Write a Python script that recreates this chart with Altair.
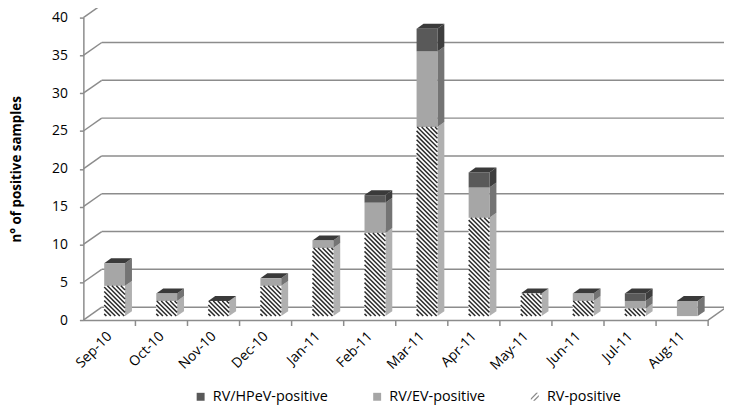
import json
import numpy as np
import pandas as pd
import altair as alt

# ---------------- data ----------------
months = ["Sep-10", "Oct-10", "Nov-10", "Dec-10", "Jan-11", "Feb-11",
          "Mar-11", "Apr-11", "May-11", "Jun-11", "Jul-11", "Aug-11"]
rv_positive = [4, 2, 2, 4, 9, 11, 25, 13, 3, 2, 1, 0]
rv_ev_positive = [3, 1, 0, 1, 1, 4, 10, 4, 0, 1, 1, 2]
rv_hpev_positive = [0, 0, 0, 0, 0, 1, 3, 2, 0, 0, 1, 0]
y_ticks = [0, 5, 10, 15, 20, 25, 30, 35, 40]
legend_order = ["RV/HPeV-positive", "RV/EV-positive", "RV-positive"]

# ---------------- styling ----------------
W, H = 630, 305
XMAX, YMAX = len(months), 40
PX, PY = W / XMAX, H / YMAX
FONT = "Open Sans"
GRID = "#8c8c8c"
WALL_X, WALL_Y = 18.5, 13      # depth of the back wall (px)
DEPTH_X, DEPTH_Y = 7, 5        # depth of a bar (px)
LIFT = 4                       # bars stand a little behind the front edge (px)
BAR_L, BAR_R = 0.4, 0.8        # bar position inside its category band
HATCH_STEP = 4.5

front_col = {"RV-positive": "#ffffff", "RV/EV-positive": "#a6a6a6", "RV/HPeV-positive": "#595959"}
side_col = {"RV-positive": "#b0b0b0", "RV/EV-positive": "#747474", "RV/HPeV-positive": "#3e3e3e"}
TOP_COL = "#3a3a3a"


def dxp(p):
    return p / PX


def dyp(p):
    return p / PY


series = [("RV-positive", rv_positive), ("RV/EV-positive", rv_ev_positive),
          ("RV/HPeV-positive", rv_hpev_positive)]

front, side, top, hatch = [], [], [], []
for i, m in enumerate(months):
    x0, x1 = i + BAR_L, i + BAR_R
    base = dyp(LIFT)
    cum = 0
    for name, vals in series:
        v = vals[i]
        if v > 0:
            y0, y1 = cum + base, cum + v + base
            fid = f"{i}-{name}"
            front.append(dict(x0=x0, x1=x1, y0=y0, y1=y1, col=front_col[name]))
            side.append(dict(fid=fid, x=x1, lo=y0, hi=y1, col=side_col[name]))
            side.append(dict(fid=fid, x=x1 + dxp(DEPTH_X), lo=y0 + dyp(DEPTH_Y),
                             hi=y1 + dyp(DEPTH_Y), col=side_col[name]))
            if name == "RV-positive":
                bw = (BAR_R - BAR_L) * PX
                hp = v * PY
                for c in np.arange(HATCH_STEP / 2, hp + bw, HATCH_STEP):
                    pa, pb = max(0.0, c - hp), min(bw, c)
                    if pb - pa < 0.4:
                        continue
                    hatch.append(dict(xa=x0 + dxp(pa), ya=y0 + dyp(c - pa),
                                      xb=x0 + dxp(pb), yb=y0 + dyp(c - pb)))
        cum += v
    t = cum + base
    top.append(dict(fid=i, y=t, xa=x0, xb=x1))
    top.append(dict(fid=i, y=t + dyp(DEPTH_Y), xa=x0 + dxp(DEPTH_X), xb=x1 + dxp(DEPTH_X)))

front_df = pd.DataFrame(front)
side_df = pd.DataFrame(side)
top_df = pd.DataFrame(top)
hatch_df = pd.DataFrame(hatch)
grid_df = pd.DataFrame({"v": y_ticks})
bound_df = pd.DataFrame({"b": list(range(1, XMAX + 1))})
legend_df = pd.DataFrame({"s": legend_order, "px": [0] * 3, "py": [0] * 3})

XS = alt.Scale(domain=[0, XMAX], nice=False, zero=False)
YS = alt.Scale(domain=[0, YMAX], nice=False, zero=False)

label_expr = json.dumps(months) + "[floor(datum.value)]"

XAX = alt.Axis(
    orient="bottom", values=[i + 0.5 for i in range(XMAX)], labelExpr=label_expr,
    ticks=False, grid=False, domainColor=GRID, domainWidth=1.5,
    labelAngle=315, labelAlign="right", labelBaseline="middle",
    labelPadding=14, labelOverlap=False, labelFlush=False, labelBound=False,
    labelFontSize=14, title=None)
YAX = alt.Axis(
    orient="left", values=y_ticks, grid=False, domainColor=GRID, domainWidth=1.5,
    tickColor=GRID, tickWidth=1.5, tickSize=4, labelPadding=12, labelFontSize=14,
    title="n° of positive samples", titleFont=FONT, titleFontSize=13.5,
    titleFontWeight="bold", titleX=-67, titleY=H / 2, titleAngle=270,
    titleAlign="center", titleBaseline="middle")

# back wall gridlines
grid = alt.Chart(grid_df).mark_rule(
    color=GRID, strokeWidth=1.5, xOffset=WALL_X, x2Offset=WALL_X,
    yOffset=-WALL_Y, y2Offset=-WALL_Y
).encode(
    x=alt.X(datum=0, scale=XS, axis=XAX),
    x2=alt.datum(XMAX),
    y=alt.Y("v:Q", scale=YS, axis=YAX),
)

# diagonal links from the front axis to the back wall
diag = alt.Chart(grid_df).mark_rule(
    color=GRID, strokeWidth=1.5, x2Offset=WALL_X, y2Offset=-WALL_Y
).encode(
    x=alt.X(datum=0, scale=XS, axis=XAX),
    x2=alt.datum(0),
    y=alt.Y("v:Q", scale=YS, axis=YAX),
    y2=alt.Y2("v:Q"),
)

floor_edge = alt.Chart(bound_df.tail(1)).mark_rule(
    color=GRID, strokeWidth=1.5, x2Offset=WALL_X, y2Offset=-WALL_Y
).encode(
    x=alt.X("b:Q", scale=XS, axis=XAX),
    x2=alt.X2("b:Q"),
    y=alt.Y(datum=0, scale=YS, axis=YAX),
    y2=alt.datum(0),
)

# category boundary ticks under the floor edge
ticks = alt.Chart(bound_df).mark_rule(color=GRID, strokeWidth=1.5).encode(
    x=alt.X("b:Q", scale=XS, axis=XAX),
    y=alt.value(H),
    y2=alt.value(H + 6),
)

sides = alt.Chart(side_df).mark_area(orient="vertical").encode(
    x=alt.X("x:Q", scale=XS, axis=XAX),
    y=alt.Y("lo:Q", scale=YS, axis=YAX, stack=None),
    y2=alt.Y2("hi:Q"),
    detail="fid:N",
    color=alt.Color("col:N", scale=None),
)

tops = alt.Chart(top_df).mark_area(orient="horizontal", color=TOP_COL).encode(
    y=alt.Y("y:Q", scale=YS, axis=YAX),
    x=alt.X("xa:Q", scale=XS, axis=XAX, stack=None),
    x2=alt.X2("xb:Q"),
    detail="fid:N",
)

fronts = alt.Chart(front_df).mark_rect().encode(
    x=alt.X("x0:Q", scale=XS, axis=XAX),
    x2=alt.X2("x1:Q"),
    y=alt.Y("y0:Q", scale=YS, axis=YAX),
    y2=alt.Y2("y1:Q"),
    color=alt.Color("col:N", scale=None),
)

hatches = alt.Chart(hatch_df).mark_rule(color="#2a2a2a", strokeWidth=1.5).encode(
    x=alt.X("xa:Q", scale=XS, axis=XAX),
    x2=alt.X2("xb:Q"),
    y=alt.Y("ya:Q", scale=YS, axis=YAX),
    y2=alt.Y2("yb:Q"),
)

hatch_symbol = ("M-1,0.35L0.35,-1L0.8,-1L-1,0.8Z "
                "M-0.45,1L1,-0.45L1,0L0,1Z")
leg = alt.Legend(title=None, orient="none", legendX=111, legendY=375,
                 direction="horizontal", symbolSize=64, labelFont=FONT,
                 labelFontSize=14.5, labelColor="#000000", labelOffset=5,
                 columnPadding=42, padding=0, symbolStrokeWidth=0,
                 symbolOpacity=1, labelLimit=300)
legend_layer = alt.Chart(legend_df).mark_point(filled=True, size=64, opacity=1).encode(
    x=alt.X("px:Q", scale=XS, axis=XAX),
    y=alt.Y("py:Q", scale=YS, axis=YAX),
    fill=alt.Fill("s:N", scale=alt.Scale(domain=legend_order,
                  range=["#595959", "#a6a6a6", "#8a8a8a"]), legend=leg),
    shape=alt.Shape("s:N", scale=alt.Scale(domain=legend_order,
                    range=["square", "square", hatch_symbol]), legend=leg),
).transform_filter("false")

chart = alt.layer(
    grid, diag, floor_edge, ticks, sides, tops, fronts, hatches, legend_layer
).properties(
    width=W, height=H,
    padding={"left": 76, "top": 8, "right": 16, "bottom": 86},
    autosize=alt.AutoSizeParams(type="none"),
).configure_view(stroke=None).configure_axis(
    labelFont=FONT, labelFontSize=13, labelColor="#000000"
)

chart.save("out.html", embed_options={"renderer": "svg", "actions": False})
